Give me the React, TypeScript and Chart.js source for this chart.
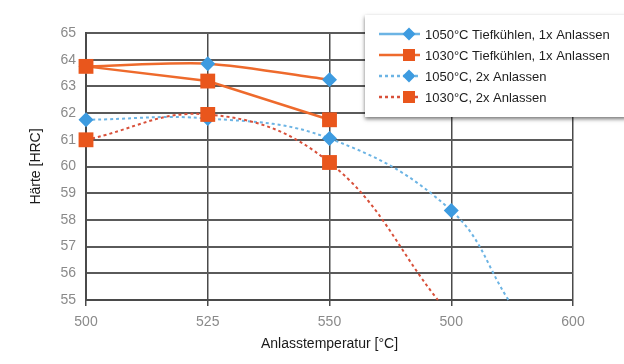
import React, { useEffect, useRef } from 'react';
import { Chart, registerables } from 'chart.js';

Chart.register(...registerables);

// ---- data ----
const xTickLabels = ['500', '525', '550', '500', '600'];
const seriesLabels = [
  '1050°C Tiefkühlen, 1x Anlassen',
  '1030°C Tiefkühlen, 1x Anlassen',
  '1050°C, 2x Anlassen',
  '1030°C, 2x Anlassen',
];
// x = position index on the temperature axis
const s1X = [0, 1, 2];
const s1Y = [63.75, 63.85, 63.25];
const s2X = [0, 1, 2];
const s2Y = [63.75, 63.2, 61.75];
const s3X = [0, 1, 2, 3, 3.47];
const s3Y = [61.75, 61.8, 61.05, 58.35, 55];
const s4X = [0, 1, 2, 2.89];
const s4Y = [61.0, 61.95, 60.15, 55];

const BLUE = '#3d9be0';
const BLUE_LINE = '#6cb4e4';
const ORANGE = '#e9561c';
const ORANGE_LINE = '#ee6a2c';
const RED_DOT = '#d8503a';

const toPts = (xs: number[], ys: number[]) => xs.map((x, i) => ({ x, y: ys[i] }));
const markerOnly = (r: number) => (ctx: any) => (ctx.raw && Number.isInteger(ctx.raw.x) ? r : 0);

const FONT = "'Liberation Sans', Arial, sans-serif";

const legendPlugin = {
  id: 'boxLegend',
  afterDraw(chart: any) {
    const ctx = chart.ctx as CanvasRenderingContext2D;
    const bx = 365, by = 15, bw = 262, bh = 102;
    ctx.save();
    ctx.shadowColor = 'rgba(0,0,0,0.55)';
    ctx.shadowBlur = 4;
    ctx.shadowOffsetY = 2;
    ctx.fillStyle = '#ffffff';
    ctx.fillRect(bx, by, bw, bh);
    ctx.restore();

    const rows = [34, 55, 76, 97];
    const items = [
      { color: BLUE_LINE, dash: [] as number[], marker: 'diamond', mColor: BLUE },
      { color: ORANGE_LINE, dash: [] as number[], marker: 'square', mColor: ORANGE },
      { color: BLUE_LINE, dash: [3, 3], marker: 'diamond', mColor: BLUE },
      { color: RED_DOT, dash: [3, 3], marker: 'square', mColor: ORANGE },
    ];
    items.forEach((it, i) => {
      const y = rows[i];
      ctx.save();
      ctx.strokeStyle = it.color;
      ctx.lineWidth = 2.5;
      ctx.setLineDash(it.dash);
      ctx.beginPath();
      ctx.moveTo(379, y);
      ctx.lineTo(420, y);
      ctx.stroke();
      ctx.setLineDash([]);
      ctx.fillStyle = it.mColor;
      const mx = 409;
      if (it.marker === 'diamond') {
        const r = 6.5;
        ctx.beginPath();
        ctx.moveTo(mx - r, y);
        ctx.lineTo(mx, y - r);
        ctx.lineTo(mx + r, y);
        ctx.lineTo(mx, y + r);
        ctx.closePath();
        ctx.fill();
      } else {
        ctx.fillRect(mx - 6, y - 6, 12, 12);
      }
      ctx.fillStyle = '#1e1e1e';
      ctx.font = `13px ${FONT}`;
      ctx.textBaseline = 'middle';
      ctx.textAlign = 'left';
      ctx.fillText(chart.data.datasets[i].label, 425, y + 1);
      ctx.restore();
    });
  },
};

export default function App() {
  const ref = useRef<HTMLCanvasElement | null>(null);

  useEffect(() => {
    if (!ref.current) return;
    const chart = new Chart(ref.current, {
      type: 'line',
      data: {
        datasets: [
          {
            label: seriesLabels[0],
            data: toPts(s1X, s1Y),
            borderColor: ORANGE_LINE,
            borderWidth: 2.5,
            pointStyle: 'rectRot',
            pointRadius: markerOnly(7.5),
            pointBackgroundColor: BLUE,
            pointBorderWidth: 0,
            tension: 0.25,
            order: 2,
          },
          {
            label: seriesLabels[1],
            data: toPts(s2X, s2Y),
            borderColor: ORANGE_LINE,
            borderWidth: 2.5,
            pointStyle: 'rect',
            pointRadius: markerOnly(10.5),
            pointBackgroundColor: ORANGE,
            pointBorderWidth: 0,
            tension: 0,
            order: 0,
          },
          {
            label: seriesLabels[2],
            data: toPts(s3X, s3Y),
            borderColor: BLUE_LINE,
            borderWidth: 2,
            borderDash: [3, 3],
            pointStyle: 'rectRot',
            pointRadius: markerOnly(7.5),
            pointBackgroundColor: BLUE,
            pointBorderWidth: 0,
            tension: 0.4,
            order: 3,
          },
          {
            label: seriesLabels[3],
            data: toPts(s4X, s4Y),
            borderColor: RED_DOT,
            borderWidth: 2,
            borderDash: [3, 3],
            pointStyle: 'rect',
            pointRadius: markerOnly(10.5),
            pointBackgroundColor: ORANGE,
            pointBorderWidth: 0,
            tension: 0.4,
            order: 1,
          },
        ] as any,
      },
      options: {
        animation: false,
        responsive: true,
        maintainAspectRatio: false,
        layout: { padding: { top: 33, right: 51, left: 0, bottom: 0 } },
        plugins: { legend: { display: false }, tooltip: { enabled: false } },
        elements: { line: { fill: false } },
        datasets: { line: { clip: false } as any },
        scales: {
          x: {
            type: 'linear',
            min: 0,
            max: 4,
            afterFit: (s: any) => { s.height = 64; },
            ticks: {
              stepSize: 1,
              callback: (v: any) => xTickLabels[v as number] ?? '',
              color: '#8a8a8a',
              font: { family: FONT, size: 14 },
              padding: 8,
              maxRotation: 0,
            },
            grid: { color: '#4a4a4a', lineWidth: 1.5, tickLength: 6, drawTicks: true },
            border: { display: true, color: '#4a4a4a', width: 2 },
            title: {
              display: true,
              text: 'Anlasstemperatur [°C]',
              color: '#1a1a1a',
              font: { family: FONT, size: 14 },
              padding: { top: 0, bottom: 11 },
            },
          },
          y: {
            min: 55,
            max: 65,
            afterFit: (s: any) => { s.width = 86; },
            ticks: {
              stepSize: 1,
              color: '#8a8a8a',
              font: { family: FONT, size: 14 },
              padding: 10,
            },
            grid: { color: '#5a5a5a', lineWidth: 2, drawTicks: false },
            border: { display: true, color: '#4a4a4a', width: 2 },
            title: {
              display: true,
              text: 'Härte [HRC]',
              color: '#1a1a1a',
              font: { family: FONT, size: 14 },
              padding: { top: 28, bottom: 0 },
            },
          },
        },
      } as any,
      plugins: [legendPlugin],
    });
    return () => chart.destroy();
  }, []);

  return (
    <div style={{ position: 'absolute', left: 0, top: 0, width: 624, height: 364, background: '#fff' }}>
      <canvas ref={ref} />
    </div>
  );
}
